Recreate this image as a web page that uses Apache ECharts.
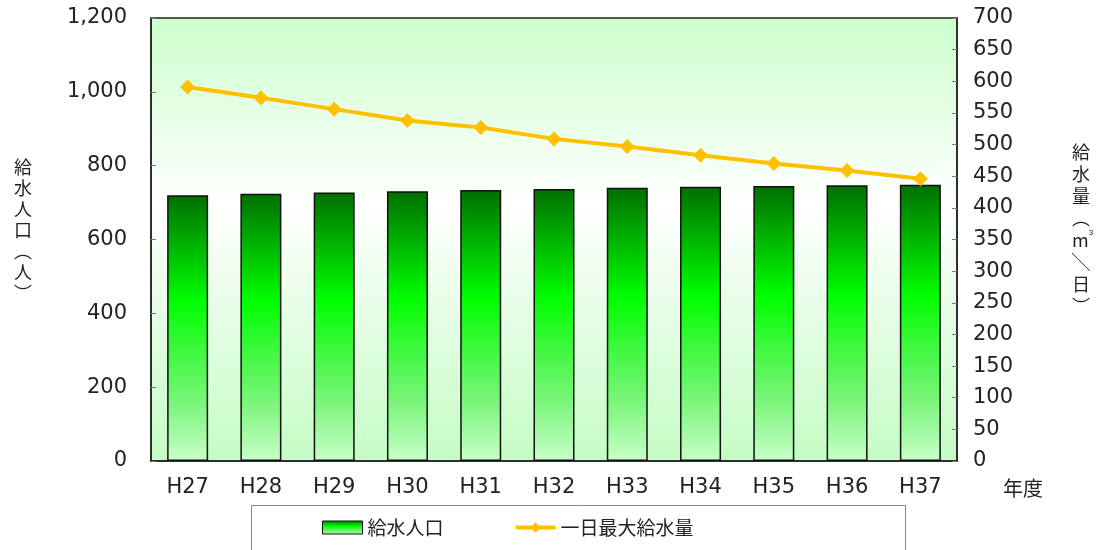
<!DOCTYPE html>
<html>
<head>
<meta charset="utf-8">
<title>給水人口と一日最大給水量</title>
<script src="https://cdn.jsdelivr.net/npm/echarts@6/dist/echarts.min.js"></script>
<style>
  body { margin: 0; background: #fff; }
  #chart { width: 1100px; height: 550px; }
</style>
</head>
<body>
<div id="chart"></div>
<script>
// data
const years = ['H27', 'H28', 'H29', 'H30', 'H31', 'H32', 'H33', 'H34', 'H35', 'H36', 'H37'];
const population = [720, 724, 727, 731, 734, 737, 740, 743, 745, 747, 748];
const maxSupply = [591, 574, 556, 538, 527, 509, 497, 483, 470, 459, 446];

const FONT = '"Noto Sans CJK JP", sans-serif';
const NUMFONT = '"DejaVu Sans", sans-serif';
const fmtComma = v => String(v).replace(/\B(?=(\d{3})+(?!\d))/g, ',');

const chart = echarts.init(document.getElementById('chart'));

chart.setOption({
    backgroundColor: '#fff',
    textStyle: { fontFamily: FONT, color: '#222' },
    grid: {
        left: 151, right: 143, top: 18, bottom: 89,
        show: true,
        borderColor: '#222', borderWidth: 1.5,
        backgroundColor: new echarts.graphic.LinearGradient(0, 0, 0, 1, [
            { offset: 0, color: '#ccffcc' },
            { offset: 0.42, color: '#ffffff' },
            { offset: 1, color: '#c4fcc4' }
        ])
    },
    legend: {
        left: 322, top: 518, padding: 0,
        itemWidth: 40, itemHeight: 13, itemGap: 70,
        textStyle: { fontSize: 19, fontFamily: FONT, color: '#222' },
        data: [
            { name: '給水人口', icon: 'rect', itemStyle: { borderColor: '#111', borderWidth: 1 } },
            { name: '一日最大給水量', lineStyle: { width: 4, color: '#ffc000' } }
        ]
    },
    xAxis: {
        type: 'category',
        data: years,
        axisLine: { lineStyle: { color: '#222', width: 1.5 } },
        axisTick: { inside: true, length: 5, lineStyle: { color: '#777' } },
        axisLabel: { fontSize: 21, margin: 16, color: '#222', fontFamily: NUMFONT }
    },
    yAxis: [
        {
            type: 'value', min: 0, max: 1200, interval: 200,
            axisLine: { show: true, lineStyle: { color: '#222', width: 1.5 } },
            axisTick: { show: true, inside: true, length: 5, lineStyle: { color: '#777' } },
            splitLine: { show: false },
            axisLabel: { fontSize: 21, margin: 24, color: '#222', fontFamily: NUMFONT, formatter: fmtComma }
        },
        {
            type: 'value', min: 0, max: 700, interval: 50,
            axisLine: { show: true, lineStyle: { color: '#222', width: 1.5 } },
            axisTick: { show: true, inside: true, length: 5, lineStyle: { color: '#777' } },
            splitLine: { show: false },
            axisLabel: { fontSize: 21, margin: 16, color: '#222', fontFamily: NUMFONT }
        }
    ],
    series: [
        {
            name: '給水人口',
            type: 'bar',
            yAxisIndex: 0,
            data: population,
            barWidth: 41,
            itemStyle: {
                borderColor: '#111', borderWidth: 1.5,
                color: new echarts.graphic.LinearGradient(0, 0, 0, 1, [
                    { offset: 0, color: '#006f00' },
                    { offset: 0.4, color: '#00ff00' },
                    { offset: 0.58, color: '#3cf83c' },
                    { offset: 0.78, color: '#7af57a' },
                    { offset: 1, color: '#c8ffc8' }
                ])
            }
        },
        {
            name: '一日最大給水量',
            type: 'line',
            yAxisIndex: 1,
            data: maxSupply,
            symbol: 'diamond',
            symbolSize: 15,
            lineStyle: { color: '#ffc000', width: 4 },
            itemStyle: { color: '#ffc000' }
        }
    ],
    graphic: [
        {
            type: 'rect', left: 251, top: 505, z: -1,
            shape: { width: 654, height: 60 },
            style: { fill: '#fff', stroke: '#888', lineWidth: 1 }
        },
        {
            type: 'text', left: 14, top: 157,
            style: { text: '給\n水\n人\n口\n︵\n人\n︶', font: '18px ' + FONT, fill: '#222', lineHeight: 21 }
        },
        {
            type: 'text', left: 1072, top: 141,
            style: {
                text: '給\n水\n量\n︵\nm{sup|3}\n╲\n日\n︶',
                font: '18px ' + FONT, fill: '#222', lineHeight: 22,
                rich: { sup: { fontSize: 8, verticalAlign: 'top', lineHeight: 22, fill: '#222' } }
            }
        },
        {
            type: 'text', left: 1003, top: 478,
            style: { text: '年度', font: '20px ' + FONT, fill: '#222' }
        }
    ]
});
</script>
</body>
</html>
